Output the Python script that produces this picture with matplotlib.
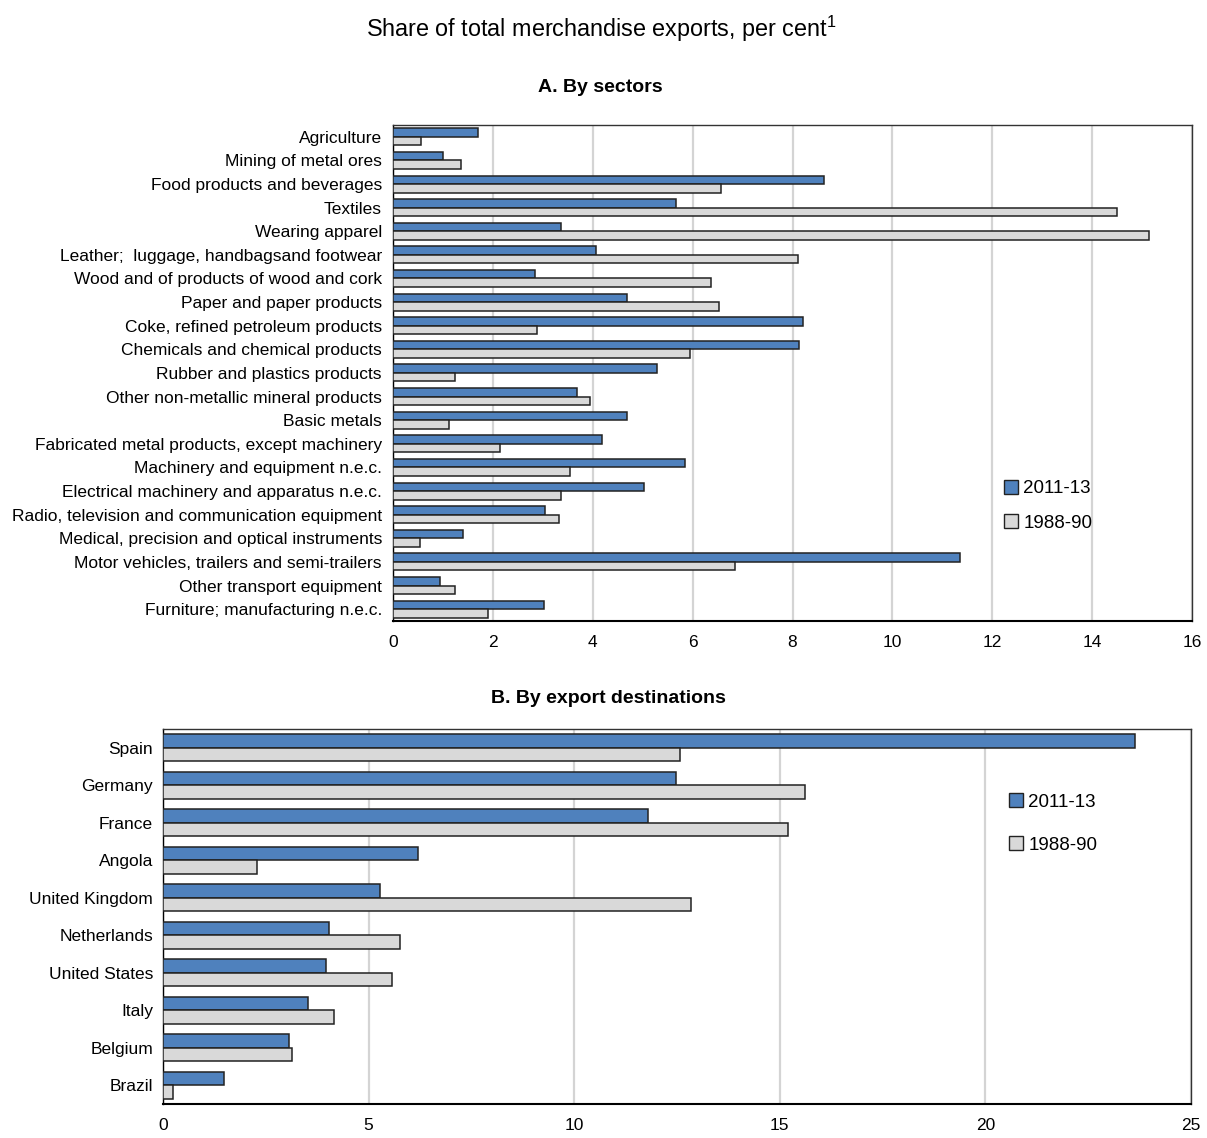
import numpy as np
import matplotlib
matplotlib.use("Agg")
import matplotlib.pyplot as plt
from matplotlib.lines import Line2D

plt.rcParams['font.family'] = ['Liberation Sans', 'DejaVu Sans']
plt.rcParams['mathtext.default'] = 'regular'

BLUE = '#4f81bd'
GREY = '#d9d9d9'
EDGE = '#222222'

# Panel A: by sectors
sectors = [
    'Agriculture', 'Mining of metal ores', 'Food products and beverages',
    'Textiles', 'Wearing apparel', 'Leather;  luggage, handbagsand footwear',
    'Wood and of products of wood and cork', 'Paper and paper products',
    'Coke, refined petroleum products', 'Chemicals and chemical products',
    'Rubber and plastics products', 'Other non-metallic mineral products',
    'Basic metals', 'Fabricated metal products, except machinery',
    'Machinery and equipment n.e.c.', 'Electrical machinery and apparatus n.e.c.',
    'Radio, television and communication equipment',
    'Medical, precision and optical instruments',
    'Motor vehicles, trailers and semi-trailers', 'Other transport equipment',
    'Furniture; manufacturing n.e.c.',
]
sectors_2011 = [1.70, 1.00, 8.64, 5.66, 3.36, 4.06, 2.84, 4.68, 8.20, 8.12, 5.28,
                3.68, 4.68, 4.18, 5.84, 5.02, 3.04, 1.40, 11.36, 0.94, 3.02]
sectors_1988 = [0.56, 1.36, 6.56, 14.50, 15.14, 8.10, 6.36, 6.52, 2.88, 5.94, 1.24,
                3.94, 1.12, 2.14, 3.54, 3.36, 3.32, 0.54, 6.84, 1.24, 1.90]

# Panel B: by export destinations
countries = ['Spain', 'Germany', 'France', 'Angola', 'United Kingdom',
             'Netherlands', 'United States', 'Italy', 'Belgium', 'Brazil']
dest_2011 = [23.65, 12.48, 11.80, 6.20, 5.28, 4.04, 3.97, 3.53, 3.07, 1.48]
dest_1988 = [12.58, 15.62, 15.20, 2.29, 12.85, 5.77, 5.57, 4.16, 3.14, 0.24]

periods = ['2011-13', '1988-90']


def draw_panel(ax, labels, new, old, xmax, step, legend_at, spacing, ypad):
    y = np.arange(len(labels))
    h = 0.36
    ax.barh(y - h / 2, new, height=h, color=BLUE, edgecolor=EDGE, linewidth=1.1, zorder=3)
    ax.barh(y + h / 2, old, height=h, color=GREY, edgecolor=EDGE, linewidth=1.1, zorder=3)
    ax.set_ylim(len(labels) - 0.5, -0.5)
    ax.set_xlim(0, xmax)
    ax.set_yticks(y)
    ax.set_yticklabels(labels, fontsize=12.5)
    ax.set_xticks(np.arange(0, xmax + 1, step))
    ax.tick_params(axis='x', labelsize=12.5, length=0, pad=10)
    ax.tick_params(axis='y', length=0, pad=ypad)
    ax.grid(axis='x', color='#d4d4d4', linewidth=1.6, zorder=0)
    for s in ax.spines.values():
        s.set_color('#333333')
        s.set_linewidth(1)
    ax.spines['left'].set_color('black')
    ax.spines['bottom'].set_color('black')
    ax.spines['bottom'].set_linewidth(1.5)
    handles = [Line2D([], [], marker='s', linestyle='none', markersize=10,
                      markerfacecolor=c, markeredgecolor=EDGE, markeredgewidth=1)
               for c in (BLUE, GREY)]
    ax.legend(handles, periods, loc='center left', bbox_to_anchor=legend_at,
              frameon=False, fontsize=13.5, handlelength=1.0, handletextpad=0.15,
              labelspacing=spacing, borderpad=0, borderaxespad=0)


fig = plt.figure(figsize=(12.07, 11.38), dpi=100)
ax1 = fig.add_axes([0.3256, 0.4543, 0.662, 0.4359])
ax2 = fig.add_axes([0.135, 0.0299, 0.8517, 0.3295])

draw_panel(ax1, sectors, sectors_2011, sectors_1988, 16, 2, (0.762, 0.232), 0.92, 8)
draw_panel(ax2, countries, dest_2011, dest_1988, 25, 5, (0.821, 0.748), 1.38, 7)

fig.text(0.498, 0.975, 'Share of total merchandise exports, per cent$^1$',
         ha='center', va='center', fontsize=16.8)
fig.text(0.497, 0.923, 'A. By sectors', ha='center', va='center',
         fontsize=14, fontweight='bold')
fig.text(0.504, 0.386, 'B. By export destinations', ha='center', va='center',
         fontsize=14, fontweight='bold')

fig.savefig('out.png', dpi=100)
